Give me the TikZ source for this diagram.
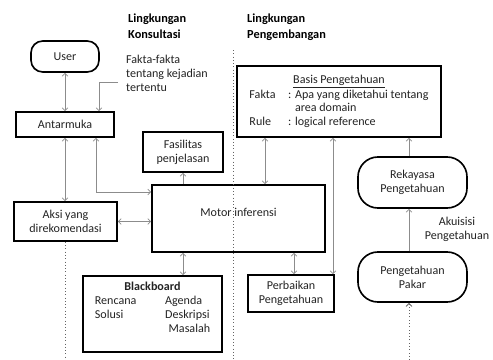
\documentclass[tikz,border=0pt]{standalone}
\usepackage{fontspec}
\setmainfont{Carlito}
\usepackage{tikz}
\usetikzlibrary{arrows.meta}
\usepackage{xcolor}
\definecolor{ColText}{RGB}{35,35,35}
\definecolor{ColLine}{RGB}{140,140,140}
\definecolor{ColDot}{RGB}{100,100,100}
\tikzstyle{BoxNode}=[rectangle,draw=black,line width=1.4pt,align=center,inner sep=1pt,
text=ColText,font=\fontsize{10.3}{12}\selectfont]
\tikzstyle{RoundNode}=[BoxNode,rounded corners=10pt]
\tikzstyle{TextNode}=[inner sep=0pt,align=left,text=ColText,font=\fontsize{10.3}{12}\selectfont]
\tikzstyle{HeadNode}=[inner sep=0pt,align=left,text=black,font=\fontsize{10.5}{13.6}\selectfont\bfseries]
\tikzstyle{EdgeArrow}=[ColLine,line width=0.6pt,-{Straight Barb[length=2.5pt,width=5pt]}]
\tikzstyle{EdgeBoth}=[ColLine,line width=0.6pt,
{Straight Barb[length=2.5pt,width=5pt]}-{Straight Barb[length=2.5pt,width=5pt]}]
\tikzstyle{EdgeDotted}=[ColDot,line width=0.8pt,dotted]

\begin{document}
\begin{tikzpicture}[x=0.03cm,y=-0.03cm]
    \useasboundingbox (0,0) rectangle (493,360);
    % headers
    \node[HeadNode,anchor=north west](headkons)at(128,14){Lingkungan\\Konsultasi};
    \node[HeadNode,anchor=north west](headdev)at(247,14){Lingkungan\\Pengembangan};
    % left part
    \node[RoundNode,minimum width=2.04cm,minimum height=0.93cm](user)at(65,56.5){User};
    \node[TextNode,anchor=north west](fakta)at(126,55){Fakta-fakta\\tentang kejadian\\tertentu};
    \node[BoxNode,minimum width=2.94cm,minimum height=0.75cm](antarmuka)at(65,124.5){Antarmuka};
    \node[BoxNode,minimum width=3.09cm,minimum height=1.17cm](aksi)at(65.5,221.5){Aksi yang\\direkomendasi};
    \node[BoxNode,minimum width=2.4cm,minimum height=1.2cm](fasilitas)at(183,152){Fasilitas\\penjelasan};
    \node[BoxNode,minimum width=5.19cm,minimum height=2.01cm,text depth=10pt](motor)at(238.5,218.5){Motor inferensi};
    \node[BoxNode,minimum width=4.17cm,minimum height=2.28cm](blackboard)at(152.5,314){};
    \node[TextNode,anchor=north,align=center](bbtext)at(152.5,282){\textbf{Blackboard}\\
        \begin{tabular}[t]{@{}p{60pt}@{}l@{}}
            Rencana & Agenda\\
            Solusi & Deskripsi\\
            & \hspace{3pt}Masalah
        \end{tabular}};
    % right part
    \node[BoxNode,minimum width=6.12cm,minimum height=2.13cm,font=\fontsize{10.3}{11.6}\selectfont](basis)at(339,101.5){%
        \begin{tabular}{@{}p{33pt}@{}l@{}}
            \multicolumn{2}{@{}c@{}}{\underline{Basis Pengetahuan}}\\[1pt]
            Fakta & : Apa yang diketahui tentang\\
            & \phantom{: }area domain\\
            Rule & : logical reference
        \end{tabular}};
    \node[BoxNode,minimum width=2.58cm,minimum height=1.11cm](perbaikan)at(291,293.5){Perbaikan\\Pengetahuan};
    \node[RoundNode,rounded corners=17pt,minimum width=3.27cm,minimum height=1.53cm](rekayasa)at(412.5,182.5){Rekayasa\\Pengetahuan};
    \node[RoundNode,rounded corners=17pt,minimum width=3.27cm,minimum height=1.5cm](pakar)at(412.5,277){Pengetahuan\\Pakar};
    \node[TextNode,align=center](akuisisi)at(457,229){Akuisisi\\Pengetahuan};
    % helper points
    \coordinate(FaktaEnd)at(118,82);
    \coordinate(FaktaBend)at(99,82);
    \coordinate(AntMotor)at(96,192);
    \coordinate(MotorBB)at(183,0);
    \coordinate(BasisMotor)at(265,0);
    \coordinate(BasisFix)at(333,0);
    \coordinate(MotorFix)at(294,0);
    \coordinate(AkuisisiLine)at(409,0);
    \coordinate(PakarIn)at(409,360);
    \coordinate(SplitTop)at(233,50);
    \coordinate(SplitBottom)at(233,360);
    \coordinate(BottomEdge)at(0,360);
    % connectors
    \draw[EdgeBoth](user)--(antarmuka);
    \draw[EdgeArrow](FaktaEnd)--(FaktaBend)--(FaktaBend|-antarmuka.north);
    \draw[EdgeBoth](antarmuka.south)--(antarmuka.south|-aksi.north);
    \draw[EdgeBoth](AntMotor|-antarmuka.south)--(AntMotor)--(AntMotor-|motor.west);
    \draw[EdgeBoth](aksi.east)--(aksi.east-|motor.west);
    \draw[EdgeArrow](fasilitas.south|-motor.north)--(fasilitas.south);
    \draw[EdgeBoth](MotorBB|-motor.south)--(MotorBB|-blackboard.north);
    \draw[EdgeBoth](BasisMotor|-basis.south)--(BasisMotor|-motor.north);
    \draw[EdgeBoth](BasisFix|-basis.south)--(BasisFix|-perbaikan.north);
    \draw[EdgeBoth](MotorFix|-motor.south)--(MotorFix|-perbaikan.north);
    \draw[EdgeArrow](AkuisisiLine|-rekayasa.north)--(AkuisisiLine|-basis.south);
    \draw[EdgeArrow](AkuisisiLine|-pakar.north)--(AkuisisiLine|-rekayasa.south);
    \draw[EdgeDotted,-{Straight Barb[length=2.5pt,width=5pt]}](PakarIn)--(pakar.south-|PakarIn);
    % borders between the two parts
    \draw[EdgeDotted](aksi.south)--(aksi.south|-BottomEdge);
    \draw[EdgeDotted](SplitTop)--(SplitBottom);
\end{tikzpicture}
\end{document}
